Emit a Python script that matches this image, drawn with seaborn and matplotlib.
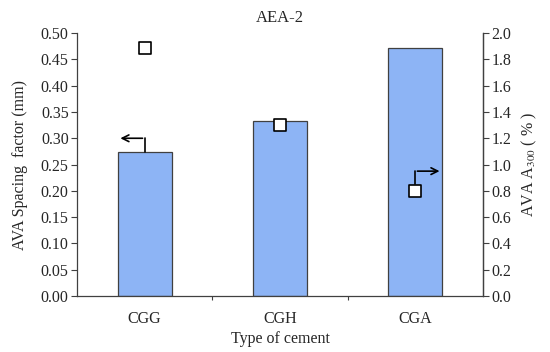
import matplotlib
matplotlib.use("Agg")
import matplotlib.pyplot as plt
import seaborn as sns
import pandas as pd

categories = ["CGG", "CGH", "CGA"]
spacing_factor = [0.273, 0.332, 0.472]
a300 = [1.89, 1.30, 0.80]

sns.set_theme(style="white")
plt.rcParams["font.family"] = ["Liberation Serif", "DejaVu Serif"]
plt.rcParams["mathtext.fontset"] = "stix"

FS = 11.5
fig = plt.figure(figsize=(5.5, 3.52), dpi=100)
ax = fig.add_axes([0.14, 0.159, 0.738, 0.747])
df = pd.DataFrame({"cat": categories, "sf": spacing_factor, "a": a300})
sns.barplot(data=df, x="cat", y="sf", ax=ax, color="#8db4f5", width=0.4,
            edgecolor="#404040", linewidth=0.9, saturation=1)
ax.set_ylim(0, 0.5)
ax.set_xlim(-0.5, 2.5)
ax.set_yticks([i * 0.05 for i in range(11)])
ax.set_yticklabels([f"{i*0.05:.2f}" for i in range(11)], fontsize=FS)
ax.tick_params(axis="y", which="both", left=True, length=4, width=0.8, color="#404040", pad=2)
ax.set_xticks([0.5, 1.5], minor=True)
ax.tick_params(axis="x", which="major", bottom=False, labelsize=FS, pad=5)
ax.tick_params(axis="x", which="minor", bottom=True, length=3, width=0.8, color="#404040")
ax.set_xlabel("Type of cement", fontsize=FS, labelpad=3)
ax.set_ylabel("AVA Spacing  factor (mm)", fontsize=FS, labelpad=9)
ax.set_title("AEA-2", fontsize=12, pad=8)
for s in ["left", "bottom", "right"]:
    ax.spines[s].set_color("#404040")
    ax.spines[s].set_linewidth(0.9)
ax.spines["top"].set_visible(False)

ax2 = ax.twinx()
sns.scatterplot(data=df, x="cat", y="a", ax=ax2, marker="s", s=70,
                facecolor="white", edgecolor="black", linewidth=1.2, zorder=5)
ax2.set_ylim(0, 2.0)
ax2.set_yticks([i * 0.2 for i in range(11)])
ax2.set_yticklabels([f"{i*0.2:.1f}" for i in range(11)], fontsize=FS)
ax2.tick_params(axis="y", right=True, length=4, width=0.8, color="#404040", pad=2)
ax2.set_ylabel("AVA A$_{300}$ ( % )", fontsize=FS, labelpad=6)
for s in ["top", "left", "bottom"]:
    ax2.spines[s].set_visible(False)
ax2.spines["right"].set_color("#404040")
ax2.spines["right"].set_linewidth(0.9)
ax2.set_xlabel("")

# arrows indicating which axis each series belongs to
ax.plot([0, 0], [spacing_factor[0], 0.30], color="black", lw=1.2)
ax.annotate("", xy=(-0.2, 0.30), xytext=(0.005, 0.30),
            arrowprops=dict(arrowstyle="->", color="black", lw=1.2))
ax2.plot([2, 2], [a300[2] + 0.05, 0.95], color="black", lw=1.2)
ax2.annotate("", xy=(2.2, 0.95), xytext=(1.995, 0.95),
             arrowprops=dict(arrowstyle="->", color="black", lw=1.2))

fig.savefig("out.png", dpi=100)
